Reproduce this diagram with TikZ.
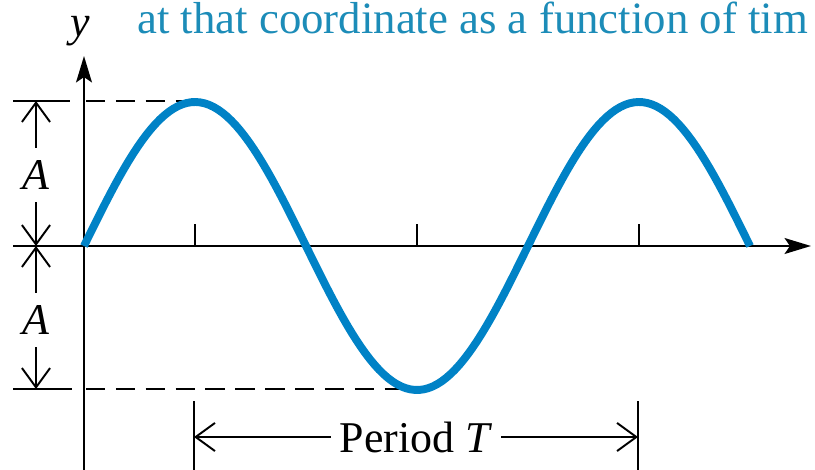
\documentclass[tikz,border=0pt]{standalone}
\usepackage{fontspec}
\setmainfont{Liberation Serif}
\usetikzlibrary{arrows.meta}
\definecolor{waveblue}{RGB}{0,130,198}
\definecolor{titleblue}{RGB}{28,140,184}
\begin{document}
\begin{tikzpicture}[x=0.02cm, y=-0.02cm, >={Straight Barb[length=11pt,width=16pt]},
  every node/.style={font=\fontsize{25}{30}\selectfont},
  guide/.style={line width=1.1pt},
  axisline/.style={line width=1.4pt, -{Stealth[length=15pt,width=9pt,inset=3pt]}},
  wave/.style={line width=4.5pt, waveblue}]
\useasboundingbox (0,0) rectangle (815,470);
% axes
\coordinate (O) at (84,246);
\coordinate (xend) at (811,246);
\coordinate (yend) at (84,56);
\draw[axisline] (13,246) -- (xend);
\draw[axisline] (84,470) -- (yend);
\node[anchor=base, font=\fontsize{25}{30}\selectfont\itshape] (ylab) at (80,36) {y};
\node[anchor=base west, text=titleblue, font=\fontsize{25.5}{30}\selectfont] (heading) at (131,33) {at that coordinate as a function of tim};
% ticks
\foreach \k in {1,3,5} \draw[guide] (84+111*\k,246) -- ++(0,-22);
% amplitude guides
\draw[guide] (13,101) -- (70,101);
\draw[guide] (13,389) -- (72,389);
\draw[guide, dash pattern=on 11pt off 6pt] (86,101) -- (185,101);
\draw[guide, dash pattern=on 11pt off 6pt] (86,389) -- (412,389);
\coordinate (atop) at (36,101);
\coordinate (amid) at (36,246);
\coordinate (abot) at (36,389);
\node[inner xsep=2pt, inner ysep=7pt] (alab1) at (36,175) {\textit{A}};
\node[inner xsep=2pt, inner ysep=7pt] (alab2) at (36,320) {\textit{A}};
\draw[guide, ->] (alab1) -- (atop);
\draw[guide, ->] (alab1) -- (amid);
\draw[guide, ->] (alab2) -- (amid);
\draw[guide, ->] (alab2) -- (abot);
% period
\draw[guide] (194,401) -- (194,470);
\draw[guide] (638,401) -- (638,470);
\coordinate (pleft) at (194,437);
\coordinate (pright) at (638,437);
\node[inner sep=5pt] (period) at (416,437) {Period \textit{T}};
\draw[guide, ->] (period) -- (pleft);
\draw[guide, ->] (period) -- (pright);
% the wave
\draw[wave] plot[domain=0:666, samples=150] ({84+\x},{246-144*sin(\x/444*360)});
\end{tikzpicture}
\end{document}
